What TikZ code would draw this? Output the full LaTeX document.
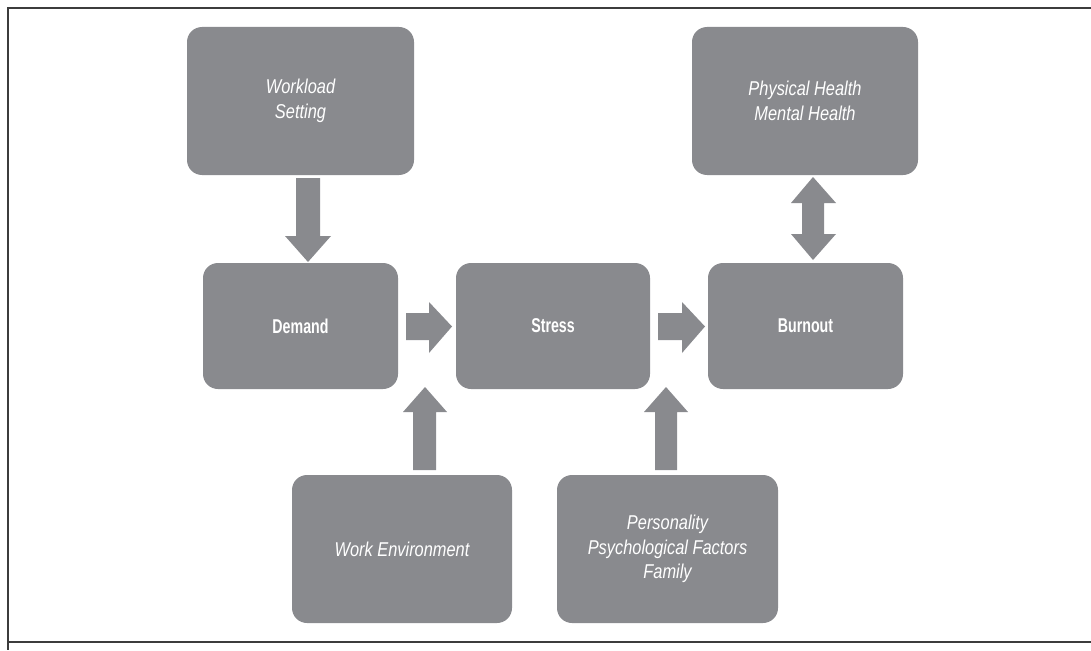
\documentclass[tikz,border=0pt]{standalone}
\usepackage{fontspec}
\newfontfamily\condit[FakeStretch=0.82]{Liberation Sans}
\newfontfamily\condbf[FakeStretch=0.71]{Liberation Sans}
\definecolor{boxgray}{RGB}{137,138,142}
\definecolor{framegray}{RGB}{60,60,60}
\tikzset{
  box/.style={fill=boxgray, draw=none, rounded corners=15pt, align=center, text=white, inner sep=0pt},
  boxit/.style={box, font=\condit\itshape\fontsize{20}{24.5}\selectfont},
  boxbf/.style={box, font=\condbf\bfseries\fontsize{20}{24.5}\selectfont},
  arr/.style={fill=boxgray, draw=none},
  frame/.style={draw=framegray, line width=1.6pt}
}
\begin{document}
\begin{tikzpicture}[x=1pt,y=-1pt]
\useasboundingbox (0,0) rectangle (1091,650);
% frame
\coordinate (ftl) at (8,8);
\coordinate (ftr) at (1091,8);
\coordinate (fbl) at (8,650);
\coordinate (fbl2) at (8,642);
\coordinate (fbr) at (1091,642);
\draw[frame] (ftr) -- (ftl) -- (fbl);
\draw[frame] (fbl2) -- (fbr);
% boxes
\node[boxit, minimum width=227pt, minimum height=148pt] (wl) at (300.5,101) {Workload\\Setting};
\node[boxit, minimum width=226pt, minimum height=148pt] (ph) at (805,101) {Physical Health\\Mental Health};
\node[boxbf, minimum width=195pt, minimum height=126pt] (dem) at (300.5,326) {Demand};
\node[boxbf, minimum width=194pt, minimum height=126pt] (str) at (553,326) {Stress};
\node[boxbf, minimum width=195pt, minimum height=126pt] (bur) at (805.5,326) {Burnout};
\node[boxit, minimum width=220pt, minimum height=148pt] (we) at (402,549) {Work Environment};
\node[boxit, minimum width=221pt, minimum height=148pt] (per) at (667.5,549) {Personality\\Psychological Factors\\Family};
% arrow: Workload -> Demand
\fill[arr] (296,178) -- (320,178) -- (320,236) -- (331,236) -- (308,262) -- (285,236) -- (296,236) -- cycle;
% arrow: Demand -> Stress
\fill[arr] (406,313) -- (429,313) -- (429,302) -- (452,326.5) -- (429,353) -- (429,340) -- (406,340) -- cycle;
% arrow: Stress -> Burnout
\fill[arr] (658,313) -- (682,313) -- (682,302) -- (705,326.5) -- (682,353) -- (682,340) -- (658,340) -- cycle;
% arrow: Work Environment -> (Demand->Stress)
\fill[arr] (413,470) -- (413,412) -- (403,412) -- (425,387) -- (447,412) -- (436,412) -- (436,470) -- cycle;
% arrow: Personality -> (Stress->Burnout)
\fill[arr] (655,470) -- (655,412) -- (644,412) -- (666,387) -- (688,412) -- (677,412) -- (677,470) -- cycle;
% double arrow: Burnout <-> Health
\fill[arr] (813,177) -- (836,203) -- (824,203) -- (824,234) -- (836,234) -- (813,260) -- (791,234) -- (802,234) -- (802,203) -- (791,203) -- cycle;
\end{tikzpicture}
\end{document}
